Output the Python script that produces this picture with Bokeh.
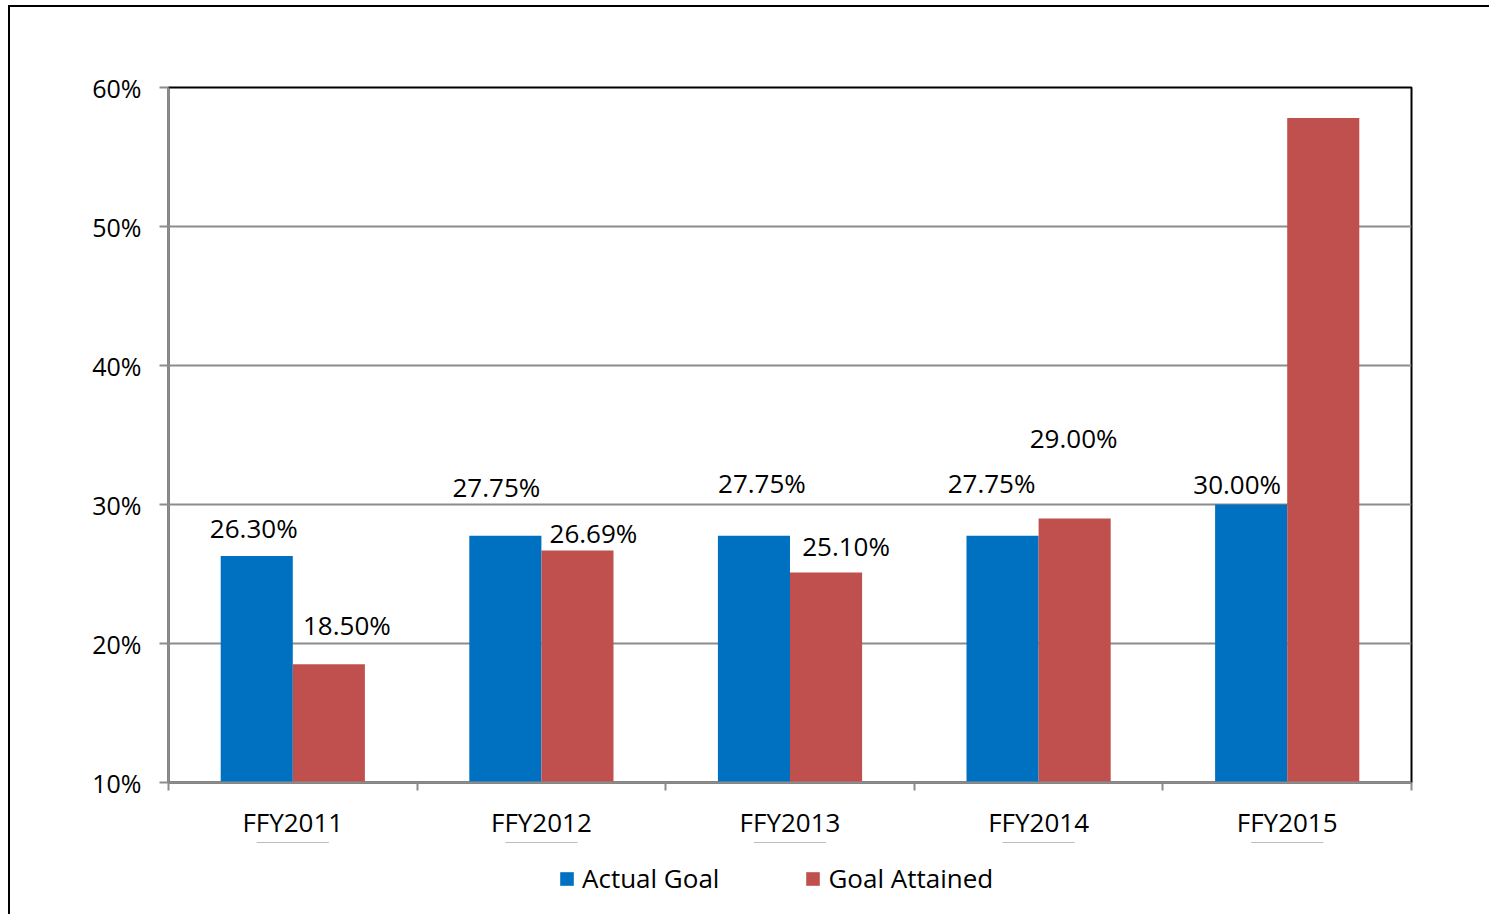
from bokeh.plotting import figure
from bokeh.layouts import column
from bokeh.models import (ColumnDataSource, FixedTicker, NumeralTickFormatter, Range1d,
                          Legend, LegendItem)
from bokeh.transform import dodge
from bokeh.core.properties import value
from bokeh.embed import file_html
from bokeh.resources import INLINE

# ---- data ----
categories = ["FFY2011", "FFY2012", "FFY2013", "FFY2014", "FFY2015"]
actual_goal = [0.263, 0.2775, 0.2775, 0.2775, 0.300]
goal_attained = [0.185, 0.2669, 0.251, 0.290, 0.578]
y_ticks = [0.1, 0.2, 0.3, 0.4, 0.5, 0.6]
series_names = ["Actual Goal", "Goal Attained"]

# label placement (screen px, styling only)
actual_dx = [-3, -9, 8, -11, -14]
actual_dy = [-28, -49, -53, -53, -21]
attained_dx = [18, 16, 20, -1, -6]
attained_dy = [-39, -18, -27, -80, -50]

FONT = "Open Sans"
BLUE = "#0070C0"
RED = "#C0504D"

xpos = [i + 0.5 for i in range(len(categories))]
src = ColumnDataSource(dict(
    x=xpos,
    actual=actual_goal,
    attained=goal_attained,
    actual_txt=["%.2f%%" % (v * 100) for v in actual_goal],
    attained_txt=["%.2f%%" % (v * 100) for v in goal_attained],
    adx=actual_dx, ady=actual_dy, rdx=attained_dx, rdy=attained_dy,
))

p = figure(frame_width=1243, frame_height=695, output_backend="svg", toolbar_location=None,
           x_range=Range1d(0, len(categories)), y_range=Range1d(0.1, 0.6),
           min_border_left=158, min_border_right=78, min_border_top=80, min_border_bottom=60)

W = 0.29
p.vbar(x=dodge("x", -W / 2), top="actual", bottom=0.1, width=W, source=src,
       fill_color=BLUE, line_color=None)
p.vbar(x=dodge("x", W / 2), top="attained", bottom=0.1, width=W, source=src,
       fill_color=RED, line_color=None)

p.text(x=dodge("x", -W / 2), y="actual", text="actual_txt", source=src,
       x_offset="adx", y_offset="ady", text_align="center", text_baseline="middle",
       text_font=value(FONT), text_font_size="26px", text_color="#000")
p.text(x=dodge("x", W / 2), y="attained", text="attained_txt", source=src,
       x_offset="rdx", y_offset="rdy", text_align="center", text_baseline="middle",
       text_font=value(FONT), text_font_size="26px", text_color="#000")

# outline
p.outline_line_color = "#000"
p.outline_line_width = 2
p.background_fill_color = "white"
p.border_fill_color = "white"

# grid
p.xgrid.grid_line_color = None
p.ygrid.grid_line_color = "#8c8c8c"
p.ygrid.grid_line_width = 2
p.ygrid.ticker = FixedTicker(ticks=y_ticks)

# y axis
ya = p.yaxis[0]
ya.ticker = FixedTicker(ticks=y_ticks)
ya.formatter = NumeralTickFormatter(format="0%")
ya.axis_line_color = "#8c8c8c"
ya.axis_line_width = 2
ya.major_tick_line_color = "#8c8c8c"
ya.major_tick_line_width = 2
ya.major_tick_out = 9
ya.major_tick_in = 0
ya.minor_tick_line_color = None
ya.major_label_standoff = 18
ya.major_label_text_font = FONT
ya.major_label_text_font_size = "25px"
ya.major_label_text_color = "#000"

# x axis: labels at category centres, ticks at boundaries
xa = p.xaxis[0]
xa.ticker = FixedTicker(ticks=xpos, minor_ticks=list(range(len(categories) + 1)))
xa.major_label_overrides = {x: c for x, c in zip(xpos, categories)}
xa.axis_line_color = "#8c8c8c"
xa.axis_line_width = 2
xa.major_tick_line_color = None
xa.major_tick_out = 8
xa.major_tick_in = 0
xa.minor_tick_line_color = "#8c8c8c"
xa.minor_tick_line_width = 2
xa.minor_tick_out = 8
xa.minor_tick_in = 0
xa.major_label_standoff = 13
xa.major_label_text_font = FONT
xa.major_label_text_font_size = "26px"
xa.major_label_text_color = "#000"

# legend strip below the chart (its own bars fall outside its view; only the key shows)
pl = figure(width=158 + 1243 + 78, height=72, output_backend="svg", toolbar_location=None,
            x_range=Range1d(0, len(categories)), y_range=Range1d(-2, -1),
            x_axis_location=None, y_axis_location=None, min_border=0)
pl.outline_line_color = None
pl.grid.grid_line_color = None
pl.background_fill_color = "white"
pl.border_fill_color = "white"
k1 = pl.vbar(x="x", top="actual", width=W, source=src, fill_color=BLUE, line_color=None)
k2 = pl.vbar(x="x", top="attained", width=W, source=src, fill_color=RED, line_color=None)

lg = Legend(items=[LegendItem(label=series_names[0], renderers=[k1]),
                   LegendItem(label=series_names[1], renderers=[k2])])
lg.orientation = "horizontal"
lg.location = (390, 18)
lg.padding = 0
lg.margin = 0
lg.border_line_color = None
lg.background_fill_alpha = 0
lg.glyph_width = 17
lg.glyph_height = 17
lg.label_standoff = 7
lg.spacing = 85
lg.label_text_font = FONT
lg.label_text_font_size = "26px"
lg.label_text_color = "#000"
lg.label_height = 20
pl.add_layout(lg, "center")

layout = column(p, pl, spacing=0)
layout.styles = {"margin-left": "8px", "margin-top": "5px",
                 "border-left": "2px solid #000", "border-top": "2px solid #000"}

open("out.html", "w").write(file_html(layout, INLINE))
